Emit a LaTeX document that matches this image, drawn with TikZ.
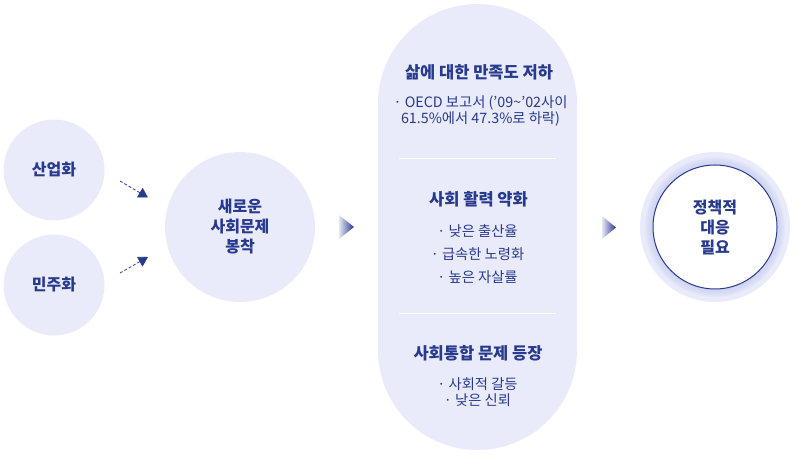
\documentclass[tikz,border=0pt]{standalone}
\usepackage{fontspec}
\setmainfont{Noto Sans CJK KR}
\usetikzlibrary{arrows.meta}
\definecolor{lav}{HTML}{E9EBFA}
\definecolor{navy}{HTML}{283A8E}
\definecolor{glow}{HTML}{C9CEF2}
\tikzset{
  bub/.style={circle, fill=lav, inner sep=0pt, text=navy, align=center,
    font=\fontsize{16}{20}\selectfont\bfseries},
  ttl/.style={text=navy, inner sep=0pt, font=\fontsize{16.5}{20}\selectfont\bfseries},
  body/.style={text=navy, inner sep=0pt, align=center, font=\fontsize{14.3}{16}\selectfont},
  body2/.style={text=navy, inner sep=0pt, align=center, font=\fontsize{14.3}{23}\selectfont},
  dashar/.style={navy, line width=0.8pt, dash pattern=on 3pt off 2pt,
    -{Triangle[angle=60:11pt]}},
  sep/.style={white, line width=1pt},
  tri/.style={left color=navy!12, right color=navy!95!blue},
}
\begin{document}
\begin{tikzpicture}[x=1pt,y=-1pt]
\useasboundingbox (0,0) rectangle (795,454);
% left circles
\node[bub, minimum size=101pt] (ind) at (54,170) {산업화};
\node[bub, minimum size=101pt] (dem) at (54,285) {민주화};
\node[bub, minimum size=150pt] (new) at (240,227) {새로운\\사회문제\\봉착};
% dashed arrows
\coordinate (d1s) at (120,181);
\coordinate (d1e) at (148,197.5);
\coordinate (d2s) at (120,273);
\coordinate (d2e) at (148,257);
\draw[dashar] (d1s) -- (d1e);
\draw[dashar] (d2s) -- (d2e);
% pill
\node[fill=lav, rounded corners=99.5pt, minimum width=199pt, minimum height=446pt, inner sep=0pt] (pill) at (477.5,227) {};
\coordinate (s1a) at (399,158.5); \coordinate (s1b) at (556,158.5);
\coordinate (s2a) at (399,314); \coordinate (s2b) at (556,314);
\draw[sep] (s1a) -- (s1b);
\draw[sep] (s2a) -- (s2b);
\node[ttl] (t1) at (479,72) {삶에 대한 만족도 저하};
\node[body] (b1) at (480.5,111) {· OECD 보고서 (’09\textasciitilde’02사이\\61.5\%에서 47.3\%로 하락)};
\node[ttl] (t2) at (478.5,199) {사회 활력 약화};
\node[body2] (b2) at (477.5,254) {· 낮은 출산율\\· 급속한 노령화\\· 높은 자살률};
\node[ttl] (t3) at (478,353) {사회통합 문제 등장};
\node[body] (b3) at (477.5,392.5) {· 사회적 갈등\\· 낮은 신뢰};
% triangle arrows
\shade[tri] (339,215) -- (354,227) -- (339,239) -- cycle;
\shade[tri] (602,216) -- (616,227.5) -- (602,239) -- cycle;
% final circle
\node[circle, fill=lav, minimum size=150pt, inner sep=0pt] (outer) at (715,227) {};
\foreach \r in {70,69,68,67,66,65,64,63} {
  \fill[glow, fill opacity=0.14] (outer.center) circle (\r pt);
}
\node[circle, fill=white, draw=navy, line width=1pt, minimum size=124pt, inner sep=0pt,
  text=navy, align=center, font=\fontsize{16}{20}\selectfont\bfseries] (pol) at (715,227) {정책적\\대응\\필요};
\end{tikzpicture}
\end{document}
